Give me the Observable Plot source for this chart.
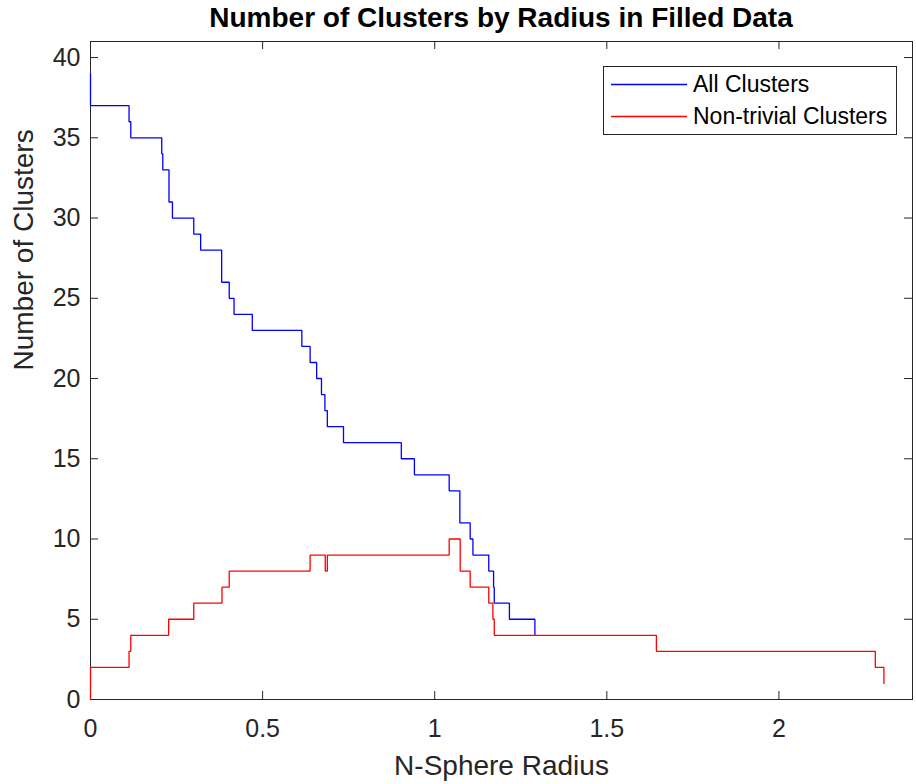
<!DOCTYPE html>
<html>
<head>
<meta charset="utf-8">
<script src="https://cdn.jsdelivr.net/npm/d3@7"></script>
<script src="https://cdn.jsdelivr.net/npm/@observablehq/plot@0.6"></script>
<style>
  body { margin: 0; background: #fff; font-family: "Liberation Sans", Arial, sans-serif; }
  #wrap { position: relative; width: 916px; height: 784px; overflow: hidden; background: #fff; }
  #title { position: absolute; left: 90px; top: 4px; width: 822px; text-align: center; font-weight: bold;
           font-size: 28px; line-height: 28px; color: #000; white-space: nowrap; }
  #chart { position: absolute; left: 0; top: 34px; }
  #legend { position: absolute; left: 603px; top: 66px; width: 292px; height: 67px;
            border: 1px solid #262626; background: #fff; }
  #legend svg { position: absolute; left: 0; top: 0; }
  .ltext { position: absolute; left: 89px; font-size: 23px; line-height: 23px; color: #000; white-space: nowrap; }
</style>
</head>
<body>
<div id="wrap">
  <div id="title"></div>
  <div id="chart"></div>
  <div id="legend"></div>
</div>
<script>
// ---- data ----
const titleText = "Number of Clusters by Radius in Filled Data";
const xLabel = "N-Sphere Radius";
const yLabel = "Number of Clusters";
const seriesNames = ["All Clusters", "Non-trivial Clusters"];
const seriesColors = ["#0000ff", "#ff0000"];

const allR = [0, 0, 0.112, 0.117, 0.207, 0.210, 0.228, 0.238, 0.300, 0.320, 0.381, 0.403, 0.417, 0.470, 0.614, 0.638, 0.657, 0.671, 0.681, 0.688, 0.735, 0.903, 0.941, 1.042, 1.073, 1.103, 1.111, 1.157, 1.171, 1.173, 1.217, 1.291];
const allN = [39, 37, 36, 35, 34, 33, 31, 30, 29, 28, 26, 25, 24, 23, 22, 21, 20, 19, 18, 17, 16, 15, 14, 13, 11, 10, 9, 8, 7, 6, 5, 4];

const ntR = [0, 0, 0.112, 0.117, 0.227, 0.300, 0.382, 0.403, 0.638, 0.682, 0.688, 1.042, 1.074, 1.103, 1.157, 1.169, 1.173, 1.644, 2.280, 2.305];
const ntN = [0, 2, 3, 4, 5, 6, 7, 8, 9, 8, 9, 10, 8, 7, 6, 5, 4, 3, 2, 1];

const xTicks = [0, 0.5, 1, 1.5, 2];
const xTickLabels = ["0", "0.5", "1", "1.5", "2"];
const yTicks = [0, 5, 10, 15, 20, 25, 30, 35, 40];
const yTickLabels = ["0", "5", "10", "15", "20", "25", "30", "35", "40"];
const xDomain = [0, 2.388];
const yDomain = [0, 41];

// ---- build ----
const allData = allR.map((r, i) => ({r, n: allN[i]}));
const ntData = ntR.map((r, i) => ({r, n: ntN[i]}));

document.getElementById("title").textContent = titleText;

const W = 916, H = 750, mL = 90, mR = 4, mT = 7, mB = 85;
const frameW = W - mL - mR, frameH = H - mT - mB;
const tickLen = 8;
const axisColor = "#262626";

const plot = Plot.plot({
  width: W, height: H,
  marginLeft: mL, marginRight: mR, marginTop: mT, marginBottom: mB,
  style: { fontFamily: "'Liberation Sans', Arial, sans-serif", color: axisColor, background: "white", overflow: "visible" },
  x: { domain: xDomain },
  y: { domain: yDomain },
  marks: [
    Plot.axisX(xTicks, { tickSize: 0, tickPadding: 19.5, fontSize: 25, label: null,
      tickFormat: d => xTickLabels[xTicks.indexOf(d)] }),
    Plot.axisY(yTicks, { tickSize: 0, tickPadding: 10, fontSize: 25, label: null,
      tickFormat: d => yTickLabels[yTicks.indexOf(d)] }),
    Plot.ruleX(xTicks, { x: d => d, insetTop: frameH - tickLen, stroke: axisColor }),
    Plot.ruleX(xTicks, { x: d => d, insetBottom: frameH - tickLen, stroke: axisColor }),
    Plot.ruleY(yTicks, { y: d => d, insetRight: frameW - tickLen, stroke: axisColor }),
    Plot.ruleY(yTicks, { y: d => d, insetLeft: frameW - tickLen, stroke: axisColor }),
    Plot.frame({ stroke: axisColor }),
    Plot.line(allData, { x: "r", y: "n", curve: "step-after", stroke: seriesColors[0], strokeWidth: 1.3, strokeLinejoin: "miter" }),
    Plot.line(ntData, { x: "r", y: "n", curve: "step-after", stroke: seriesColors[1], strokeWidth: 1.3, strokeLinejoin: "miter" }),
    Plot.text([xLabel], { text: d => d, frameAnchor: "bottom", lineAnchor: "top", dy: 56, fontSize: 28, fill: axisColor }),
    Plot.text([yLabel], { text: d => d, frameAnchor: "left", lineAnchor: "top", rotate: -90, dx: -77, fontSize: 28, fill: axisColor })
  ]
});
document.getElementById("chart").appendChild(plot);

// legend
const legend = document.getElementById("legend");
const rowCenters = [17.5, 49.5];
const NS = "http://www.w3.org/2000/svg";
const lsvg = document.createElementNS(NS, "svg");
lsvg.setAttribute("width", 292);
lsvg.setAttribute("height", 67);
legend.appendChild(lsvg);
seriesNames.forEach((name, i) => {
  const ln = document.createElementNS(NS, "line");
  ln.setAttribute("x1", 7);
  ln.setAttribute("x2", 83);
  ln.setAttribute("y1", rowCenters[i]);
  ln.setAttribute("y2", rowCenters[i]);
  ln.setAttribute("stroke", seriesColors[i]);
  ln.setAttribute("stroke-width", 1.3);
  lsvg.appendChild(ln);
  const t = document.createElement("div");
  t.className = "ltext";
  t.style.top = (rowCenters[i] - 12) + "px";
  t.textContent = name;
  legend.appendChild(t);
});
</script>
</body>
</html>
